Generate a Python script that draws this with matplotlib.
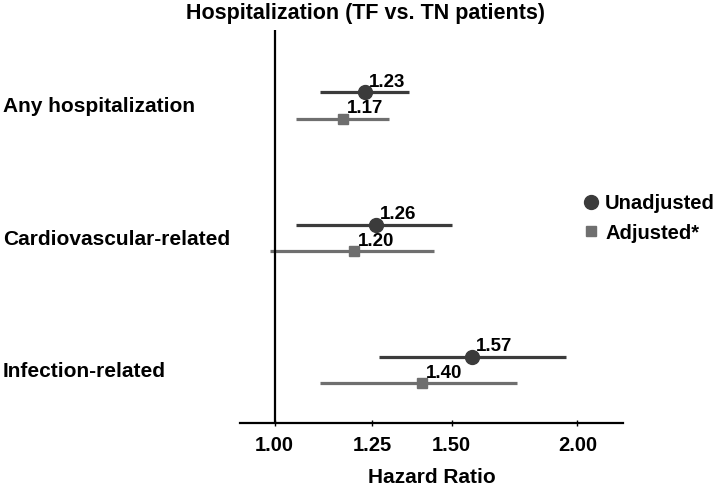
import matplotlib
matplotlib.use("Agg")
import matplotlib.pyplot as plt
import matplotlib.transforms as mtransforms
import numpy as np

plt.rcParams["font.family"] = ["Liberation Sans", "DejaVu Sans"]
plt.rcParams["font.weight"] = "bold"

categories = ["Any hospitalization", "Cardiovascular-related", "Infection-related"]
unadj_hr = [1.23, 1.26, 1.57]
unadj_lo = [1.11, 1.05, 1.27]
unadj_hi = [1.36, 1.50, 1.95]
adj_hr = [1.17, 1.20, 1.40]
adj_lo = [1.05, 0.99, 1.11]
adj_hi = [1.30, 1.44, 1.74]
xtick_vals = [1.00, 1.25, 1.50, 2.00]
xtick_labels = ["1.00", "1.25", "1.50", "2.00"]

dark = "#3b3b3b"
mid = "#6f6f6f"

fig = plt.figure(figsize=(7.2, 4.86), dpi=100)
ax = fig.add_axes([240 / 720, 1 - 423 / 486, (623 - 240) / 720, (423 - 30) / 486])

pos = np.arange(len(categories))
y_u = pos - 0.1
y_a = pos + 0.1

# CI lines then point estimates
ax.hlines(y_u, unadj_lo, unadj_hi, color=dark, lw=2.3)
ax.hlines(y_a, adj_lo, adj_hi, color=mid, lw=2.3)
ax.plot(unadj_hr, y_u, "o", color=dark, ms=10, label="Unadjusted")
ax.plot(adj_hr, y_a, "s", color=mid, ms=7, label="Adjusted*")

for x, y in zip(unadj_hr, y_u):
    ax.annotate(f"{x:.2f}", (x, y), xytext=(3, 4), textcoords="offset points",
                ha="left", va="baseline", fontsize=13.5, fontweight="bold")
for x, y in zip(adj_hr, y_a):
    ax.annotate(f"{x:.2f}", (x, y), xytext=(3, 4), textcoords="offset points",
                ha="left", va="baseline", fontsize=13.5, fontweight="bold")

ax.axvline(1.0, color="black", lw=1.6)

ax.set_xscale("log")
ax.set_xlim(0.924, 2.22)
ax.set_ylim(2.40, -0.572)
ax.set_xticks(xtick_vals, xtick_labels)
ax.xaxis.set_minor_locator(matplotlib.ticker.NullLocator())
ax.tick_params(axis="x", direction="inout", length=5, width=1, pad=7, labelsize=14.5)
ax.set_yticks([])
for s in ["top", "right", "left"]:
    ax.spines[s].set_visible(False)
ax.spines["bottom"].set_linewidth(1.6)
ax.set_xlabel("Hazard Ratio", fontsize=15, fontweight="bold", labelpad=9)

trans = mtransforms.blended_transform_factory(fig.transFigure, ax.transData)
for y, name in zip(pos, categories):
    ax.text(3 / 720, y + 0.01, name, transform=trans, ha="left", va="center",
            fontsize=15, fontweight="bold")

fig.text(366 / 720, 1 - 14 / 486, "Hospitalization (TF vs. TN patients)",
         ha="center", va="center", fontsize=15.5, fontweight="bold")

fig.legend(loc="center left", bbox_to_anchor=(583 / 720, 1 - 218.5 / 486),
           frameon=False, handlelength=0.8, handletextpad=0.3, borderpad=0,
           borderaxespad=0, labelspacing=0.5, prop={"size": 14.5, "weight": "bold"})

fig.savefig("out.png", dpi=100)
